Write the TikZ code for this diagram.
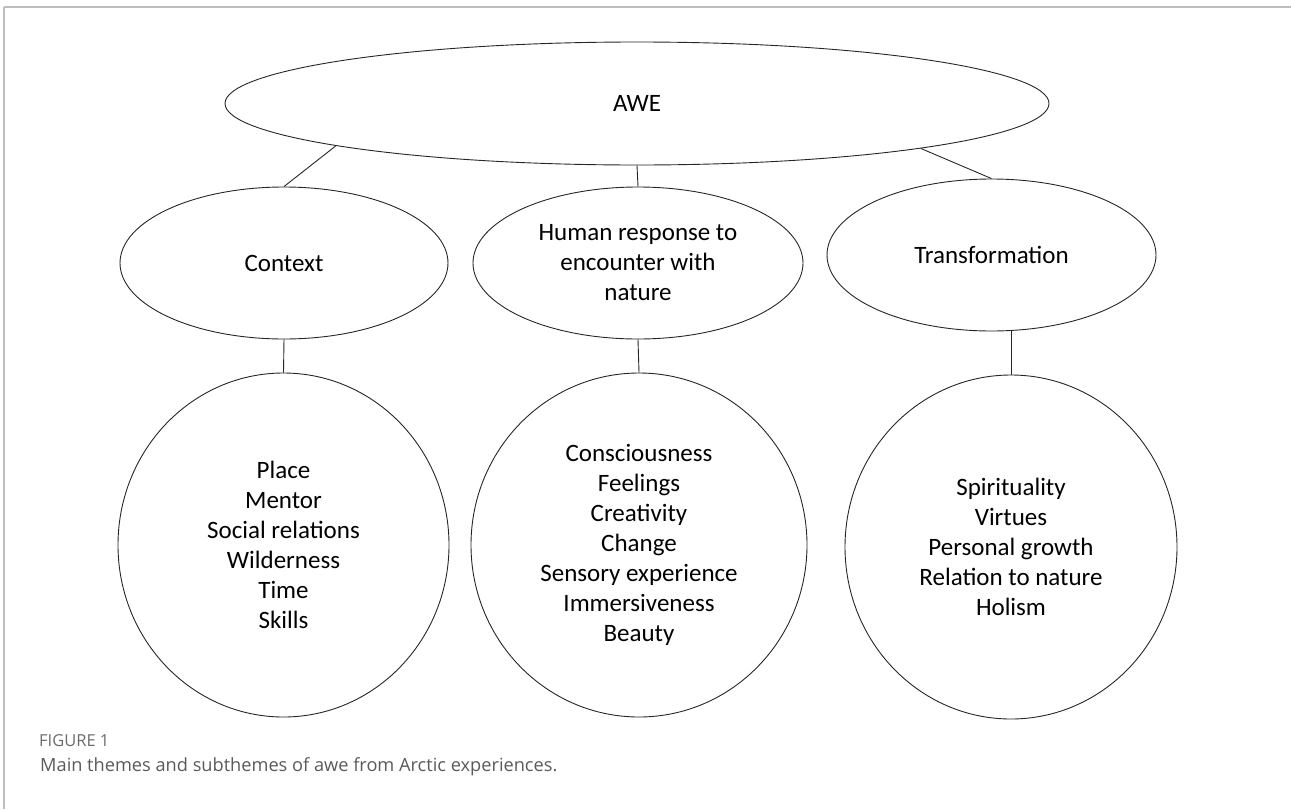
\documentclass[tikz,border=0pt]{standalone}
\usepackage{fontspec}
\setmainfont{Carlito}
\newfontfamily\capfont{Open Sans}
\usetikzlibrary{shapes.geometric}
\definecolor{framegray}{HTML}{BDBDBD}
\definecolor{captiongray}{HTML}{5A5A5A}
\tikzset{
  theme/.style={draw=black!85, line width=0.9pt, ellipse, inner sep=0pt,
    align=center, font=\fontsize{25}{30}\selectfont},
  link/.style={draw=black!85, line width=0.9pt}
}
\begin{document}
\begin{tikzpicture}[x=1pt,y=-1pt]
\useasboundingbox (0,0) rectangle (1291,809);
% frame lines
\draw[framegray, line width=2pt] (4,7) -- (1291,7);
\draw[framegray, line width=1.5pt] (4,7) -- (4,809);

% main theme
\node[theme, minimum width=824, minimum height=123] (awe) at (637,103.5) {AWE};

% themes
\node[theme, minimum width=328, minimum height=152] (ctx) at (284,263) {Context};
\node[theme, minimum width=330, minimum height=152] (hum) at (638,263)
  {Human response to\\encounter with\\nature};
\node[theme, minimum width=329, minimum height=152] (trn) at (991.5,255) {Transformation};

% subthemes
\node[theme, minimum width=331, minimum height=344] (ctxsub) at (283.5,545)
  {Place\\Mentor\\Social relations\\Wilderness\\Time\\Skills};
\node[theme, minimum width=336, minimum height=344] (humsub) at (639,545)
  {Consciousness\\Feelings\\Creativity\\Change\\Sensory experience\\Immersiveness\\Beauty};
\node[theme, minimum width=332, minimum height=344] (trnsub) at (1011,547)
  {Spirituality\\Virtues\\Personal growth\\Relation to nature\\Holism};

% connectors
\draw[link] (awe.188.5) -- (ctx.north);
\draw[link] (awe.south) -- (hum.north);
\draw[link] (awe.351.4) -- (trn.north);
\draw[link] (ctx.south) -- (ctxsub.north);
\draw[link] (hum.south) -- (humsub.north);
\draw[link] (trn.south -| trnsub.north) -- (trnsub.north);

% caption
\node[anchor=west, inner sep=0pt, text=captiongray!90,
  font=\capfont\fontsize{16.5}{18}\selectfont] (fig) at (39,741) {FIGURE 1};
\node[anchor=west, inner sep=0pt, text=captiongray,
  font=\capfont\fontsize{18.2}{22}\selectfont] (cap) at (40,767)
  {Main themes and subthemes of awe from Arctic experiences.};
\end{tikzpicture}
\end{document}
